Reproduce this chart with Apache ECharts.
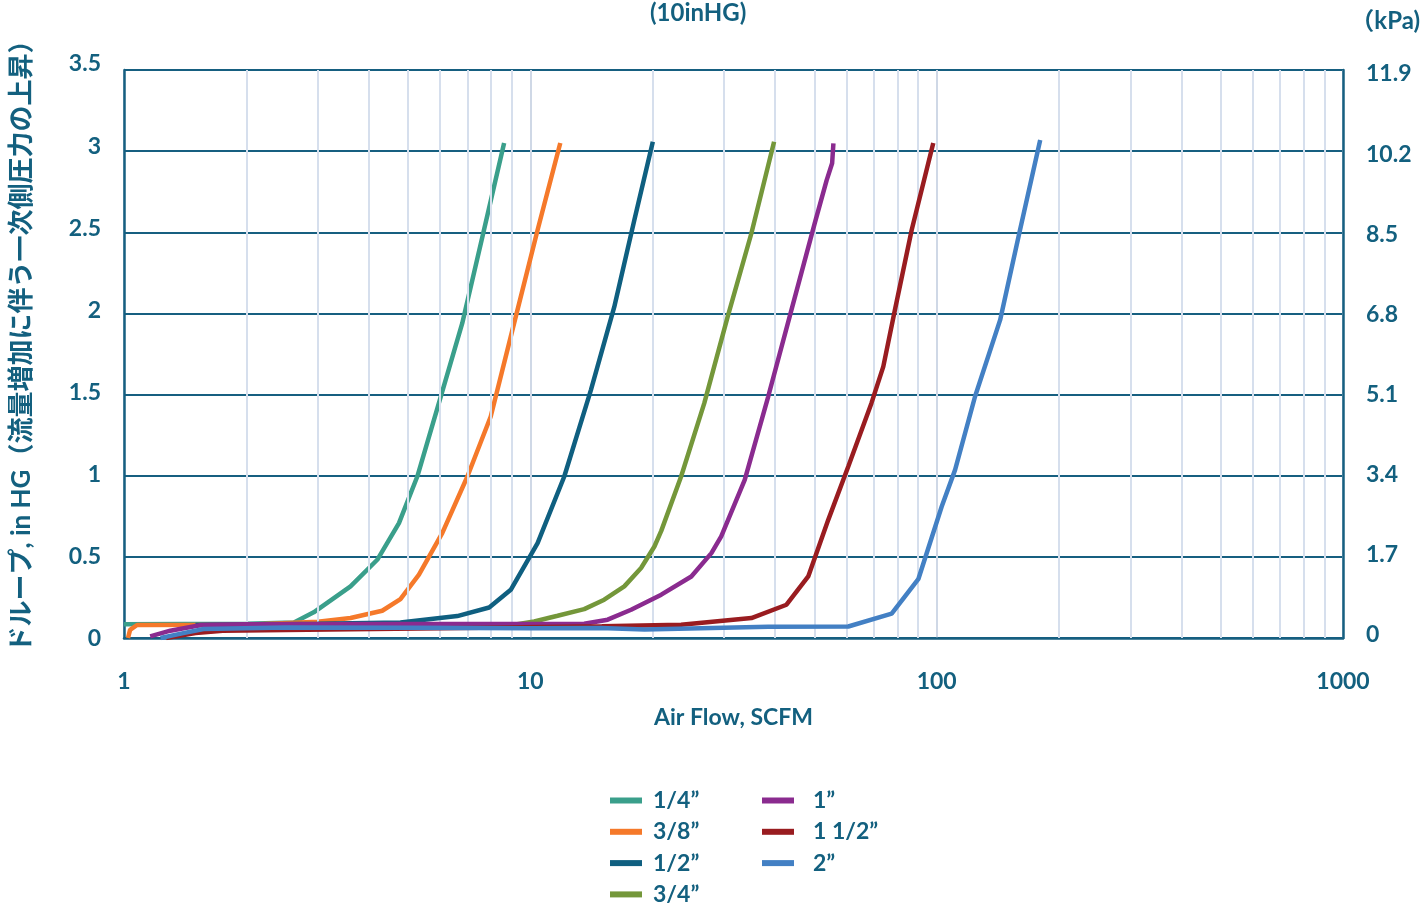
<!DOCTYPE html>
<html>
<head>
<meta charset="utf-8">
<script src="https://cdn.jsdelivr.net/npm/echarts@6/dist/echarts.min.js"></script>
<style>
html,body{margin:0;padding:0;background:#fff;}
#chart{width:1424px;height:905px;}
</style>
</head>
<body>
<div id="chart"></div>
<script>
// ---- data (Air Flow SCFM, droop inHG) ----
const seriesNames = ['1/4”', '3/8”', '1/2”', '3/4”', '1”', '1 1/2”', '2”'];
const quarter = [[1,0.085],[2.0,0.088],[2.62,0.096],[2.93,0.158],[3.61,0.318],[4.2,0.482],[4.75,0.708],[5.27,0.995],[6.02,1.488],[6.8,1.94],[7.69,2.514],[8.62,3.05]];
const threeEighths = [[1.023,0.0],[1.035,0.05],[1.077,0.08],[2.0,0.082],[3.0,0.1],[3.61,0.123],[4.32,0.168],[4.79,0.24],[5.32,0.39],[6.07,0.646],[7.0,0.995],[7.99,1.365],[8.95,1.857],[10.42,2.514],[11.85,3.05]];
const half = [[1.5,0.08],[3.0,0.088],[4.79,0.095],[6.61,0.135],[7.92,0.188],[8.95,0.297],[10.42,0.585],[12.12,0.995],[14.1,1.529],[16.09,2.04],[18.03,2.576],[20.02,3.058]];
const threeQuarter = [[2.0,0.075],[9.12,0.082],[10.22,0.102],[11.67,0.137],[13.57,0.178],[15.2,0.236],[17.03,0.318],[18.73,0.431],[20.2,0.564],[21.0,0.66],[23.5,0.995],[26.8,1.447],[30.6,1.98],[35.0,2.494],[39.8,3.058]];
const one = [[1.16,0.01],[1.3,0.045],[1.55,0.08],[2.0,0.085],[13.57,0.088],[15.5,0.113],[17.7,0.174],[21.0,0.267],[24.9,0.379],[27.9,0.523],[29.5,0.626],[33.7,0.975],[38.5,1.488],[43.9,2.02],[50.1,2.555],[53.6,2.82],[55.3,2.925],[55.7,3.048]];
const oneHalf = [[1.27,0.0],[1.5,0.03],[1.75,0.045],[2.5,0.05],[6.0,0.06],[15.0,0.072],[23.5,0.082],[35.0,0.123],[42.7,0.205],[48.3,0.379],[54.1,0.728],[60.6,1.057],[69.1,1.447],[73.9,1.672],[78.9,2.02],[86.8,2.514],[98.1,3.05]];
const two = [[1.23,0.0],[1.4,0.03],[1.57,0.055],[2.5,0.065],[5.0,0.063],[10.0,0.06],[14.9,0.062],[19.1,0.052],[38.5,0.07],[60.6,0.071],[77.5,0.15],[90.2,0.365],[102.9,0.81],[111.0,1.036],[124.3,1.488],[143.3,1.96],[159.0,2.473],[179.8,3.068]];
const seriesData = [quarter, threeEighths, half, threeQuarter, one, oneHalf, two];
const minorGridValues = [2,3,4,5,6,7,8,9,20,30,40,50,60,70,80,90,200,300,400,500,600,700,800,900];
const xTickLabels = {1:'1', 10:'10', 100:'100', 1000:'1000'};

// ---- style ----
const colors = ['#3a9f8b','#f5792a','#0f5f80','#74973a','#8a2b8f','#991c20','#4380c4'];
const ink = '#13607f';
const gridInk = '#165f80';
const font = 'Lato, "Noto Sans CJK JP", sans-serif';
const txt = {color: ink, fontFamily: font, fontWeight: 'bold', fontSize: 23};

const chart = echarts.init(document.getElementById('chart'), null, {renderer: 'canvas'});

const lineSeries = seriesNames.map((name, i) => ({
  name: name,
  type: 'line',
  xAxisIndex: 0, yAxisIndex: 0,
  data: seriesData[i],
  showSymbol: false,
  symbol: 'none',
  lineStyle: {color: colors[i], width: 4.5},
  itemStyle: {color: colors[i]},
  z: 3 + i,
  animation: false
}));

const option = {
  animation: false,
  backgroundColor: '#ffffff',
  grid: [
    {left: 124, right: 81, top: 70, bottom: 267},
    {left: 124, right: 81, top: 64, bottom: 266},
    {left: 124, right: 81, top: 74, bottom: 270}
  ],
  xAxis: [
    {
      type: 'log', logBase: 10, min: 1, max: 1000, gridIndex: 0,
      name: 'Air Flow, SCFM', nameLocation: 'middle', nameGap: 68,
      nameTextStyle: Object.assign({}, txt),
      axisLine: {show: true, lineStyle: {color: gridInk, width: 2.5}},
      axisTick: {show: false},
      axisLabel: Object.assign({margin: 32, formatter: v => xTickLabels[v] || ''}, txt),
      splitLine: {show: true, lineStyle: {color: '#cfd8e6', width: 2}}
    },
    {type: 'value', gridIndex: 1, show: false, min: 0, max: 1},
    {type: 'value', gridIndex: 2, show: false, min: 0, max: 1}
  ],
  yAxis: [
    {
      type: 'value', gridIndex: 0, min: 0, max: 3.5, interval: 0.5, position: 'left',
      axisLine: {show: true, lineStyle: {color: gridInk, width: 2.5}},
      axisTick: {show: false},
      axisLabel: {show: false},
      splitLine: {show: true, lineStyle: {color: gridInk, width: 2}}
    },
    {
      type: 'value', gridIndex: 0, min: 0, max: 11.9, interval: 1.7, position: 'right',
      axisLine: {show: true, lineStyle: {color: gridInk, width: 2.5}},
      axisTick: {show: false},
      axisLabel: {show: false},
      splitLine: {show: false}
    },
    {
      type: 'value', gridIndex: 1, min: 0, max: 3.5, interval: 0.5, position: 'left',
      axisLine: {show: false}, axisTick: {show: false}, splitLine: {show: false},
      axisLabel: Object.assign({margin: 23}, txt)
    },
    {
      type: 'value', gridIndex: 2, min: 0, max: 11.9, interval: 1.7, position: 'right',
      axisLine: {show: false}, axisTick: {show: false}, splitLine: {show: false},
      axisLabel: Object.assign({margin: 23, formatter: v => (Math.abs(v) < 1e-9 ? '0' : v.toFixed(1))}, txt)
    }
  ],
  legend: [
    {
      data: seriesNames.slice(0, 4), orient: 'vertical', left: 610, top: 789, height: 160, padding: 0,
      itemGap: 8.3, itemWidth: 32, itemHeight: 6, icon: 'rect',
      textStyle: Object.assign({lineHeight: 23, padding: [0, 0, 0, 6]}, txt),
      selectedMode: false
    },
    {
      data: seriesNames.slice(4), orient: 'vertical', left: 762, top: 789, height: 160, padding: 0,
      itemGap: 8.3, itemWidth: 32, itemHeight: 6, icon: 'rect',
      textStyle: Object.assign({lineHeight: 23, padding: [0, 0, 0, 14]}, txt),
      selectedMode: false
    }
  ],
  graphic: [
    {type: 'text', left: 650, top: 1, style: {text: '(10inHG)', fill: ink, font: 'bold 24px ' + font}},
    {type: 'text', right: 4, top: 9, style: {text: '（kPa)', fill: ink, font: 'bold 24px ' + font}},
    {
      type: 'text', x: 22, y: 340, rotation: Math.PI / 2,
      style: {text: 'ドループ, in HG（流量増加に伴う一次側圧力の上昇）', fill: ink, font: 'bold 26px ' + font, align: 'center', verticalAlign: 'middle'}
    }
  ],
  series: [
    {
      type: 'line', name: 'minor-grid', xAxisIndex: 0, yAxisIndex: 0, data: [], z: 1, silent: true,
      markLine: {
        silent: true, symbol: ['none', 'none'], label: {show: false}, animation: false,
        lineStyle: {color: '#d6dfed', width: 2, type: 'solid'},
        data: minorGridValues.map(v => ({xAxis: v}))
      }
    }
  ].concat(lineSeries)
};
chart.setOption(option);
</script>
</body>
</html>
